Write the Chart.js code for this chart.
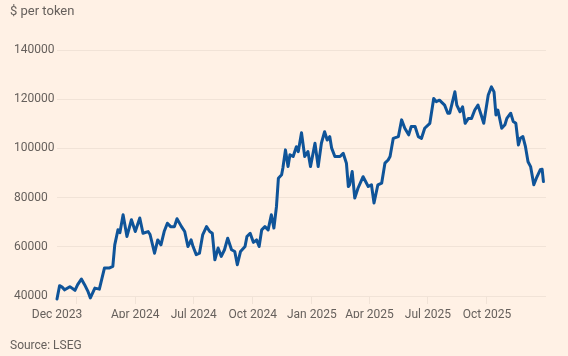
<!DOCTYPE html>
<html>
<head>
<meta charset="utf-8">
<script src="https://cdn.jsdelivr.net/npm/chart.js@4/dist/chart.umd.min.js"></script>
<style>
  html, body { margin: 0; padding: 0; background: #fff1e5; }
  #wrap { width: 568px; height: 356px; position: relative; }
</style>
</head>
<body>
<div id="wrap"><canvas id="c" width="568" height="356"></canvas></div>
<script>
const titleText = '$ per token';
const sourceText = 'Source: LSEG';

const dates = [
'2023-12-01','2023-12-05','2023-12-09','2023-12-13','2023-12-21','2023-12-29','2024-01-02','2024-01-08','2024-01-13','2024-01-18',
'2024-01-22','2024-01-29','2024-02-05','2024-02-13','2024-02-21','2024-02-26','2024-02-29','2024-03-05','2024-03-08','2024-03-13',
'2024-03-19','2024-03-26','2024-04-01','2024-04-08','2024-04-13','2024-04-21','2024-04-24','2024-05-01','2024-05-06','2024-05-11',
'2024-05-16','2024-05-21','2024-05-26','2024-06-01','2024-06-05','2024-06-12','2024-06-17','2024-06-22','2024-06-27','2024-06-30',
'2024-07-05','2024-07-10','2024-07-15','2024-07-21','2024-07-26','2024-07-30','2024-08-03','2024-08-08','2024-08-13','2024-08-18',
'2024-08-23','2024-08-29','2024-09-03','2024-09-07','2024-09-12','2024-09-19','2024-09-22','2024-09-27','2024-10-02','2024-10-07',
'2024-10-11','2024-10-15','2024-10-20','2024-10-25','2024-10-30','2024-11-03','2024-11-07','2024-11-10','2024-11-15','2024-11-17',
'2024-11-21','2024-11-25','2024-11-28','2024-12-03','2024-12-08','2024-12-11','2024-12-16','2024-12-21','2024-12-26','2024-12-30',
'2025-01-06','2025-01-11','2025-01-16','2025-01-21','2025-01-25','2025-01-29','2025-02-01','2025-02-06','2025-02-14','2025-02-19',
'2025-02-24','2025-02-27','2025-03-01','2025-03-05','2025-03-09','2025-03-14','2025-03-22','2025-03-30','2025-04-04','2025-04-08',
'2025-04-14','2025-04-20','2025-04-25','2025-04-30','2025-05-03','2025-05-08','2025-05-16','2025-05-21','2025-05-26','2025-06-01',
'2025-06-05','2025-06-11','2025-06-16','2025-06-21','2025-06-26','2025-07-04','2025-07-10','2025-07-14','2025-07-19','2025-07-27',
'2025-08-01','2025-08-04','2025-08-12','2025-08-15','2025-08-20','2025-08-24','2025-08-28','2025-09-02','2025-09-07','2025-09-12',
'2025-09-17','2025-09-22','2025-09-26','2025-10-03','2025-10-08','2025-10-12','2025-10-15','2025-10-18','2025-10-24','2025-10-29',
'2025-11-01','2025-11-07','2025-11-11','2025-11-15','2025-11-19','2025-11-22','2025-11-26','2025-11-30','2025-12-04','2025-12-08',
'2025-12-13','2025-12-17','2025-12-23','2025-12-26','2025-12-28'
];

const prices = [
38800,44200,43600,42500,43800,42300,44500,46900,44600,42000,
39200,43200,42800,51400,51400,52000,60800,66900,65700,73000,
64200,71000,66200,71700,65500,66200,65000,57400,62800,60800,
66200,69600,68200,68200,71400,68200,66200,60100,62800,60100,
56800,57400,64800,68200,66200,65500,54700,59500,56100,58800,
63500,58800,58100,52700,58100,60100,64200,65500,61800,62800,
60100,66900,68200,66900,73000,67600,76400,87900,89300,92000,
99400,92600,97400,96700,100700,98700,106400,96700,98700,92600,
102100,92600,102100,106800,103400,104800,100100,96700,96700,98000,
94000,84500,85200,90600,79800,83800,88500,84500,85200,77800,
85200,85900,94000,95300,96700,104100,104800,111600,108200,105500,
108900,108900,104800,104100,108200,110200,120300,119000,119600,117600,
114300,114300,123000,117600,114900,116900,110200,112200,112200,115600,
117600,113600,110200,121700,125000,123000,113600,115600,108200,109600,
112200,114300,110900,110200,101400,104100,104800,100700,94600,92600,
85200,87900,91300,91500,86500
];

const xTickDates = ['2023-12-01','2024-01-01','2024-04-01','2024-07-01','2024-10-01','2025-01-01','2025-04-01','2025-07-01','2025-10-01'];
const xTickLabels = ['Dec 2023','','Apr 2024','Jul 2024','Oct 2024','Jan 2025','Apr 2025','Jul 2025','Oct 2025'];
const yTicks = [40000,60000,80000,100000,120000,140000];
const xStart = '2023-12-01';
const xEnd = '2026-01-01';

const dayOf = s => {
  const p = s.split('-').map(Number);
  const q = xStart.split('-').map(Number);
  return (Date.UTC(p[0], p[1]-1, p[2]) - Date.UTC(q[0], q[1]-1, q[2])) / 86400000;
};

const points = dates.map((d, i) => ({ x: dayOf(d), y: prices[i] }));
const xTickDays = xTickDates.map(dayOf);

const BG = '#fff1e5';
const GRID = '#f1e3d7';
const TEXT = '#66605c';
const FONT = 'Roboto';

const bgPlugin = {
  id: 'bg',
  beforeDraw(chart) {
    const ctx = chart.ctx;
    ctx.save();
    ctx.fillStyle = BG;
    ctx.fillRect(0, 0, chart.width, chart.height);
    ctx.restore();
  },
  afterDraw(chart) {
    const ctx = chart.ctx;
    ctx.save();
    ctx.fillStyle = TEXT;
    ctx.textBaseline = 'middle';
    ctx.textAlign = 'left';
    ctx.font = '13px ' + FONT;
    ctx.fillText(titleText, 10, 12);
    ctx.font = '12px ' + FONT;
    ctx.fillText(sourceText, 10, 346);
    ctx.restore();
  }
};

new Chart(document.getElementById('c'), {
  type: 'line',
  data: {
    datasets: [{
      data: points,
      borderColor: '#0f5499',
      borderWidth: 3,
      pointRadius: 0,
      tension: 0,
      borderJoinStyle: 'round',
      borderCapStyle: 'round',
      clip: false
    }]
  },
  options: {
    responsive: false,
    animation: false,
    layout: { padding: { left: 14, right: 22, top: 50, bottom: 38 } },
    plugins: { legend: { display: false }, tooltip: { enabled: false }, title: { display: false } },
    scales: {
      x: {
        type: 'linear',
        min: 0,
        max: dayOf(xEnd),
        afterBuildTicks: s => { s.ticks = xTickDays.map(v => ({ value: v })); },
        afterFit: s => { s.height = 22; },
        ticks: {
          autoSkip: false, maxRotation: 0, minRotation: 0, padding: 4,
          color: TEXT, font: { family: FONT, size: 12 },
          callback: (v, i) => xTickLabels[i]
        },
        grid: {
          drawOnChartArea: false, drawTicks: true, tickLength: 8,
          color: c => c.index === 0 ? 'rgba(0,0,0,0)' : GRID
        },
        border: { display: false }
      },
      y: {
        min: 40000,
        max: 140000,
        afterBuildTicks: s => { s.ticks = yTicks.map(v => ({ value: v })); },
        afterFit: s => { s.width = 43; },
        ticks: {
          crossAlign: 'far', color: TEXT, font: { family: FONT, size: 12 },
          callback: v => String(v)
        },
        grid: { color: GRID, drawTicks: false },
        border: { display: false }
      }
    }
  },
  plugins: [bgPlugin]
});
</script>
</body>
</html>
